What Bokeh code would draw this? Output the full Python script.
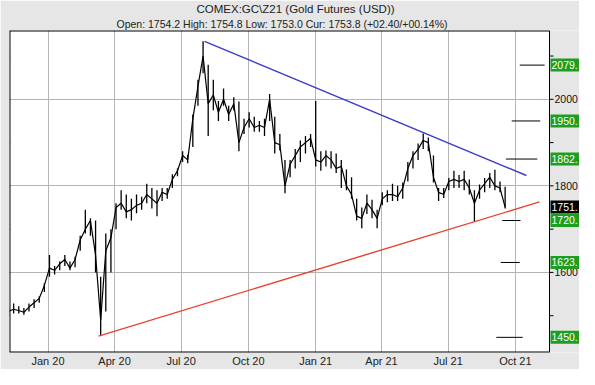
import math
import pandas as pd
from bokeh.plotting import figure
from bokeh.models import FixedTicker, DatetimeTickFormatter, Range1d, Title
from bokeh.core.properties import value
from bokeh.embed import file_html
from bokeh.resources import INLINE

# ---------------- data ----------------
title_text = "COMEX:GC\\Z21 (Gold Futures (USD))"
sub_text = "Open: 1754.2 High: 1754.8 Low: 1753.0 Cur: 1753.8 (+02.40/+00.14%)"

dates = pd.date_range("2019-11-08", periods=98, freq="7D")
lows = [1500, 1505, 1505, 1502, 1510, 1518, 1530, 1555, 1590, 1595,
        1605, 1615, 1605, 1612, 1650, 1690, 1685, 1600, 1453, 1510,
        1600, 1700, 1745, 1725, 1720, 1737, 1745, 1760, 1748, 1730,
        1765, 1770, 1795, 1822, 1855, 1852, 1890, 1985, 2060, 1915,
        1975, 1950, 1985, 1950, 1975, 1880, 1920, 1935, 1925, 1925,
        1915, 1950, 1875, 1882, 1783, 1820, 1840, 1855, 1875, 1890,
        1845, 1835, 1845, 1840, 1830, 1795, 1790, 1770, 1720, 1702,
        1735, 1725, 1702, 1755, 1762, 1765, 1765, 1770, 1810, 1840,
        1860, 1885, 1880, 1808, 1765, 1772, 1790, 1795, 1795, 1790,
        1780, 1717, 1770, 1785, 1795, 1790, 1785, 1748]
highs = [1520, 1528, 1522, 1518, 1528, 1538, 1545, 1575, 1640, 1615,
         1625, 1640, 1625, 1636, 1685, 1745, 1725, 1720, 1590, 1690,
         1700, 1760, 1790, 1780, 1770, 1780, 1775, 1805, 1795, 1790,
         1795, 1795, 1827, 1840, 1880, 1872, 1965, 2045, 2134, 2080,
         2045, 1996, 2025, 1985, 2005, 1995, 1955, 1970, 1960, 1950,
         1955, 2012, 1960, 1920, 1860, 1860, 1885, 1905, 1915, 1920,
         1996, 1880, 1882, 1880, 1875, 1860, 1838, 1820, 1770, 1750,
         1780, 1768, 1745, 1785, 1790, 1805, 1800, 1808, 1855, 1880,
         1898, 1921, 1912, 1870, 1795, 1795, 1818, 1835, 1825, 1835,
         1815, 1790, 1803, 1818, 1830, 1837, 1810, 1798]
closes = [1510, 1515, 1512, 1508, 1520, 1530, 1540, 1570, 1610, 1605,
          1620, 1630, 1610, 1630, 1675, 1700, 1720, 1640, 1490, 1650,
          1680, 1750, 1760, 1740, 1745, 1755, 1760, 1780, 1770, 1760,
          1785, 1780, 1815, 1835, 1870, 1860, 1955, 2030, 2100, 1990,
          2010, 1970, 2000, 1965, 1990, 1900, 1935, 1955, 1935, 1940,
          1935, 2000, 1900, 1895, 1800, 1850, 1870, 1890, 1900, 1910,
          1860, 1855, 1870, 1860, 1840, 1845, 1800, 1780, 1730, 1725,
          1760, 1745, 1725, 1770, 1780, 1780, 1775, 1795, 1840, 1870,
          1885, 1905, 1900, 1820, 1785, 1780, 1810, 1815, 1810, 1815,
          1795, 1760, 1790, 1805, 1820, 1800, 1795, 1751]

# trend lines
upper_dates = ["2020-08-02", "2021-10-16"]
upper_vals = [2134, 1824]
lower_dates = ["2020-03-10", "2021-11-03"]
lower_vals = [1453, 1763]

# target levels
target_vals = [2079, 1950, 1862, 1720, 1623, 1450]
target_start = ["2021-10-07", "2021-09-26", "2021-09-18", "2021-09-13", "2021-09-11", "2021-09-05"]
target_end = ["2021-11-10", "2021-11-04", "2021-10-31", "2021-10-08", "2021-10-07", "2021-10-11"]

# right-hand value boxes
box_vals = [2079, 1950, 1862, 1751, 1720, 1623, 1450]
box_texts = ["2079.", "1950.", "1862.", "1751.", "1720.", "1623.", "1450."]
box_colors = ["#1e9e1e", "#1e9e1e", "#1e9e1e", "#000000", "#1e9e1e", "#1e9e1e", "#1e9e1e"]

tick_dates = ["2020-01-01", "2020-04-01", "2020-07-01", "2020-10-01",
              "2021-01-01", "2021-04-01", "2021-07-01", "2021-10-01"]
y_ticks = [1500, 1600, 1700, 1800, 1900, 2000, 2100]
y_labels = [1600, 1800, 2000]

# ---------------- layout ----------------
W, H = 579, 369
LEFT, RIGHT, TOP, BOTTOM = 9, 0, 27, 16
FRAME_W = W - LEFT - RIGHT
PLOT_W = 540          # width of the white chart area inside the frame

x_start = pd.Timestamp("2019-11-09 08:00")
plot_edge = pd.Timestamp("2021-11-16 16:00")
x_end = x_start + (plot_edge - x_start) * FRAME_W / PLOT_W
ms_per_px = (x_end - x_start).total_seconds() * 1000 / FRAME_W
y0, y1 = 1415, 2159
GRAY = "#e6e6e6"
FONT = "Liberation Sans"

p = figure(width=W, height=H, x_axis_type="datetime",
           x_range=Range1d(x_start, x_end), y_range=Range1d(y0, y1),
           output_backend="svg", toolbar_location=None,
           min_border_left=LEFT, min_border_right=RIGHT,
           min_border_top=TOP, min_border_bottom=BOTTOM)
p.background_fill_color = "white"
p.border_fill_color = GRAY
p.outline_line_color = None

# titles
p.add_layout(Title(text=sub_text, align="left", offset=107, standoff=1,
                   text_font=FONT, text_font_size="10.5px",
                   text_font_style="normal", text_color="#222222"), "above")
p.add_layout(Title(text=title_text, align="left", offset=187, standoff=1,
                   text_font=FONT, text_font_size="11.5px",
                   text_font_style="normal", text_color="#222222"), "above")

# x axis
xt = FixedTicker(ticks=[pd.Timestamp(d).value / 1e6 for d in tick_dates])
p.xaxis.ticker = xt
p.xgrid.ticker = xt
fmt = "%b %y"
p.xaxis.formatter = DatetimeTickFormatter(days=fmt, months=fmt, years=fmt, hours=fmt)
p.xaxis.axis_line_color = None
p.xaxis.major_tick_line_color = None
p.xaxis.major_tick_out = 0
p.xaxis.major_tick_in = 0
p.xaxis.minor_tick_line_color = None
p.xaxis.minor_tick_out = 0
p.xaxis.major_label_standoff = 2
p.xaxis.major_label_text_font = FONT
p.xaxis.major_label_text_font_size = "11px"
p.xaxis.major_label_text_color = "#222222"

# y: no drawn axis (ticks are drawn at the chart edges), grid at labelled values
p.yaxis.visible = False
p.ygrid.ticker = FixedTicker(ticks=y_labels)

for g in (p.xgrid, p.ygrid):
    g.grid_line_color = "#b4b4b4"
    g.grid_line_width = 1

# price bars
p.segment(x0=dates, y0=lows, x1=dates, y1=highs, line_color="black", line_width=1.3)
p.line(x=dates, y=closes, line_color="black", line_width=1.2)

# trend lines
p.line(x=pd.to_datetime(upper_dates), y=upper_vals, line_color="#3b3bc8", line_width=1.4)
p.line(x=pd.to_datetime(lower_dates), y=lower_vals, line_color="#e8432e", line_width=1.4)

# targets
p.segment(x0=pd.to_datetime(target_start), y0=target_vals,
          x1=pd.to_datetime(target_end), y1=target_vals, line_color="black", line_width=1)

# right-hand strip (value scale)
p.quad(left=[plot_edge], right=[x_end + (x_end - x_start) * 0.05],
       bottom=[y0 - 100], top=[y1 + 100], fill_color=GRAY, line_color=None)

# chart border
p.segment(x0=[x_start, x_start, x_start], y0=[y0, y1, y0],
          x1=[x_start, plot_edge, plot_edge], y1=[y1, y1, y0],
          line_color="black", line_width=2)
p.segment(x0=[plot_edge], y0=[y0], x1=[plot_edge], y1=[y1], line_color="black", line_width=1)

# y ticks on both edges, labels on the right
p.ray(x=[plot_edge] * len(y_ticks), y=y_ticks, length=4, angle=0,
      length_units="screen", line_color="black", line_width=1)
p.ray(x=[x_start] * len(y_ticks), y=y_ticks, length=4, angle=math.pi,
      length_units="screen", line_color="black", line_width=1)
p.text(x=[plot_edge] * len(y_labels), y=y_labels, text=[str(v) for v in y_labels],
       x_offset=5, text_baseline="middle", text_align="left",
       text_font=value(FONT), text_font_size="10.5px", text_color="#111111")

# value boxes
box_w_ms = 2 * (x_end - plot_edge).total_seconds() * 1000 - 2 * ms_per_px
p.rect(x=[x_end] * len(box_vals), y=box_vals, width=box_w_ms, height=13,
       height_units="screen", fill_color=box_colors, line_color=None)
p.text(x=[plot_edge] * len(box_vals), y=box_vals, text=box_texts,
       x_offset=2, text_baseline="middle", text_align="left",
       text_font=value(FONT), text_font_size="10.5px", text_color="white")

open("out.html", "w").write(file_html(p, INLINE))
